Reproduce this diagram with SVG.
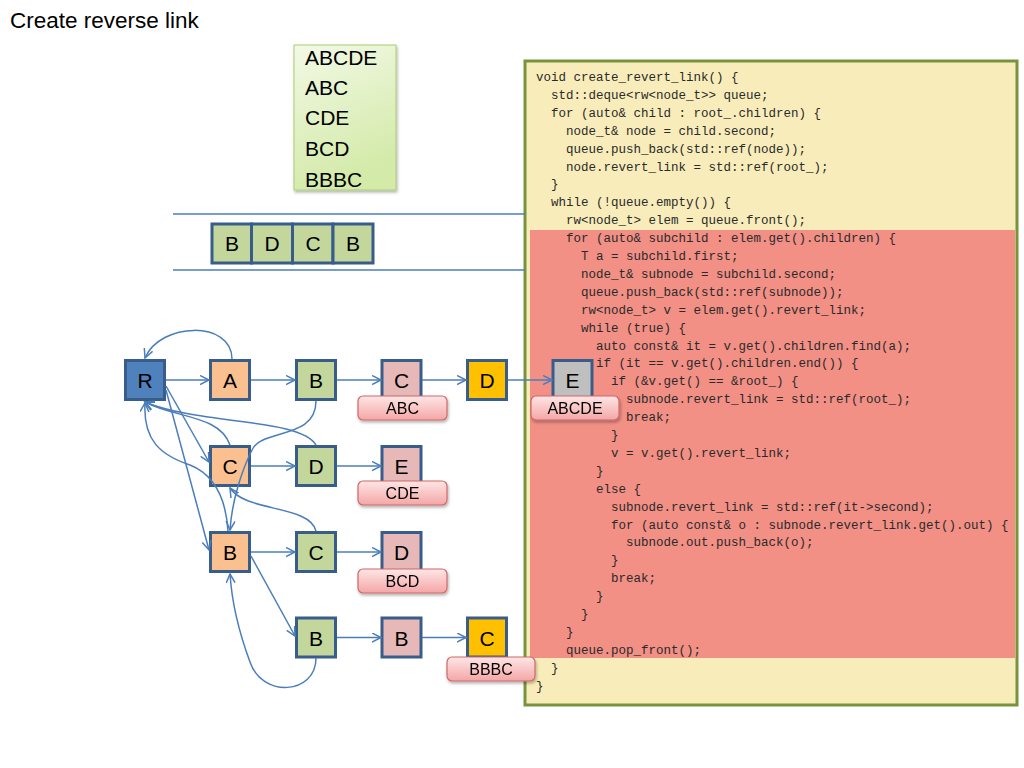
<svg xmlns="http://www.w3.org/2000/svg" width="1024" height="768" viewBox="0 0 1024 768">
<style>
.node rect{stroke:#385D8A;stroke-width:3}
.nl{font-family:"Liberation Sans",Arial,sans-serif;font-size:21px;fill:#000;text-anchor:middle}
.lbl rect{fill:url(#lg);stroke:#D06868;stroke-width:1.2}
.lt{font-family:"Liberation Sans",Arial,sans-serif;font-size:16px;fill:#000;text-anchor:middle}
.or{fill:#FAC090}.gr{fill:#C3D69B}.pk{fill:#E6B9B8}.go{fill:#FFC000}.gy{fill:#BFBFBF}.bl{fill:#4F81BD}
.edge{fill:none;stroke:#4A7EBB;stroke-width:1.5;marker-end:url(#ah)}
.code{font-family:"Liberation Mono","Courier New",monospace;font-size:12.5px;fill:#2a2a2a}
.wl{font-family:"Liberation Sans",Arial,sans-serif;font-size:21px;fill:#000}
</style>
<defs>
<marker id="ah" markerUnits="userSpaceOnUse" markerWidth="12" markerHeight="12" refX="9" refY="5" orient="auto">
<path d="M0,0.5 L9,5 L0,9.5" fill="none" stroke="#4A7EBB" stroke-width="1.5"/>
</marker>
<linearGradient id="lg" x1="0" y1="0" x2="0" y2="1">
<stop offset="0" stop-color="#FFE6E6"/><stop offset="1" stop-color="#F4A6A6"/>
</linearGradient>
<linearGradient id="wg" x1="0" y1="0" x2="0.3" y2="1">
<stop offset="0" stop-color="#F3F9E6"/><stop offset="1" stop-color="#D3EAA8"/>
</linearGradient>
<filter id="sh" x="-10%" y="-10%" width="130%" height="130%">
<feDropShadow dx="1" dy="2" stdDeviation="1.5" flood-color="#000" flood-opacity="0.3"/>
</filter>
</defs>
<rect width="1024" height="768" fill="#fff"/>
<text x="10" y="28" font-family="Liberation Sans,Arial,sans-serif" font-size="22.5" fill="#000">Create reverse link</text>

<g id="code-box">
<rect x="525" y="61" width="492" height="644" fill="#F8EDBA" stroke="#77933C" stroke-width="3"/>
<rect x="530" y="230" width="485" height="428" fill="#F29086"/>
<text class="code">
<tspan x="536" y="81">void create_revert_link() {</tspan>
<tspan x="551" y="98.9">std::deque&lt;rw&lt;node_t&gt;&gt; queue;</tspan>
<tspan x="551" y="116.8">for (auto&amp; child : root_.children) {</tspan>
<tspan x="566" y="134.7">node_t&amp; node = child.second;</tspan>
<tspan x="566" y="152.6">queue.push_back(std::ref(node));</tspan>
<tspan x="566" y="170.5">node.revert_link = std::ref(root_);</tspan>
<tspan x="551" y="188.4">}</tspan>
<tspan x="551" y="206.3">while (!queue.empty()) {</tspan>
<tspan x="566" y="224.2">rw&lt;node_t&gt; elem = queue.front();</tspan>
<tspan x="566" y="242.1">for (auto&amp; subchild : elem.get().children) {</tspan>
<tspan x="581" y="260">T a = subchild.first;</tspan>
<tspan x="581" y="277.9">node_t&amp; subnode = subchild.second;</tspan>
<tspan x="581" y="295.8">queue.push_back(std::ref(subnode));</tspan>
<tspan x="581" y="313.7">rw&lt;node_t&gt; v = elem.get().revert_link;</tspan>
<tspan x="581" y="331.6">while (true) {</tspan>
<tspan x="596" y="349.5">auto const&amp; it = v.get().children.find(a);</tspan>
<tspan x="596" y="367.4">if (it == v.get().children.end()) {</tspan>
<tspan x="611" y="385.3">if (&amp;v.get() == &amp;root_) {</tspan>
<tspan x="626" y="403.2">subnode.revert_link = std::ref(root_);</tspan>
<tspan x="626" y="421.1">break;</tspan>
<tspan x="611" y="439">}</tspan>
<tspan x="611" y="456.9">v = v.get().revert_link;</tspan>
<tspan x="596" y="474.8">}</tspan>
<tspan x="596" y="492.7">else {</tspan>
<tspan x="611" y="510.6">subnode.revert_link = std::ref(it-&gt;second);</tspan>
<tspan x="611" y="528.5">for (auto const&amp; o : subnode.revert_link.get().out) {</tspan>
<tspan x="626" y="546.4">subnode.out.push_back(o);</tspan>
<tspan x="611" y="564.3">}</tspan>
<tspan x="611" y="582.2">break;</tspan>
<tspan x="596" y="600.1">}</tspan>
<tspan x="581" y="618">}</tspan>
<tspan x="566" y="635.9">}</tspan>
<tspan x="566" y="653.8">queue.pop_front();</tspan>
<tspan x="551" y="671.7">}</tspan>
<tspan x="536" y="689.6">}</tspan>
</text>
</g>

<g id="word-list">
<rect x="294" y="45" width="102" height="145" fill="url(#wg)" stroke="#A9CD72" stroke-width="1" filter="url(#sh)"/>
<text class="wl" x="305" y="65">ABCDE</text>
<text class="wl" x="305" y="95">ABC</text>
<text class="wl" x="305" y="125">CDE</text>
<text class="wl" x="305" y="156">BCD</text>
<text class="wl" x="305" y="187">BBBC</text>
</g>

<g id="queue">
<line x1="173" y1="214" x2="525" y2="214" stroke="#4A7EBB" stroke-width="1.5"/>
<line x1="173" y1="270" x2="525" y2="270" stroke="#4A7EBB" stroke-width="1.5"/>
<g class="node">
<rect x="212" y="224" width="39.5" height="39" class="gr"/>
<rect x="251.5" y="224" width="41" height="39" class="gr"/>
<rect x="292.5" y="224" width="40.5" height="39" class="gr"/>
<rect x="333" y="224" width="40" height="39" class="gr"/>
</g>
<text class="nl" x="232" y="251">B</text>
<text class="nl" x="272" y="251">D</text>
<text class="nl" x="313" y="251">C</text>
<text class="nl" x="353" y="251">B</text>
</g>

<g id="n-R" class="node"><rect x="125.5" y="360.5" width="39" height="39" class="bl"/><text class="nl" x="145" y="388">R</text></g>
<g id="n-A" class="node"><rect x="210.5" y="360.5" width="39" height="39" class="or"/><text class="nl" x="230" y="388">A</text></g>
<g id="n-AB" class="node"><rect x="296.5" y="360.5" width="39" height="39" class="gr"/><text class="nl" x="316" y="388">B</text></g>
<g id="n-ABC" class="node"><rect x="382" y="360.5" width="39" height="39" class="pk"/><text class="nl" x="401.5" y="388">C</text></g>
<g id="n-ABCD" class="node"><rect x="467.5" y="360.5" width="39" height="39" class="go"/><text class="nl" x="487" y="388">D</text></g>
<g id="n-ABCDE" class="node"><rect x="553" y="360.5" width="39" height="39" class="gy"/><text class="nl" x="572.5" y="388">E</text></g>
<g id="n-C" class="node"><rect x="210.5" y="446.5" width="39" height="39" class="or"/><text class="nl" x="230" y="474">C</text></g>
<g id="n-CD" class="node"><rect x="296.5" y="446.5" width="39" height="39" class="gr"/><text class="nl" x="316" y="474">D</text></g>
<g id="n-CDE" class="node"><rect x="382" y="446.5" width="39" height="39" class="pk"/><text class="nl" x="401.5" y="474">E</text></g>
<g id="n-B" class="node"><rect x="210.5" y="532.5" width="39" height="39" class="or"/><text class="nl" x="230" y="560">B</text></g>
<g id="n-BC" class="node"><rect x="296.5" y="532.5" width="39" height="39" class="gr"/><text class="nl" x="316" y="560">C</text></g>
<g id="n-BCD" class="node"><rect x="382" y="532.5" width="39" height="39" class="pk"/><text class="nl" x="401.5" y="560">D</text></g>
<g id="n-BB" class="node"><rect x="296.5" y="618" width="39" height="39" class="gr"/><text class="nl" x="316" y="645.5">B</text></g>
<g id="n-BBB" class="node"><rect x="382" y="618" width="39" height="39" class="pk"/><text class="nl" x="401.5" y="645.5">B</text></g>
<g id="n-BBBC" class="node"><rect x="467.5" y="618" width="39" height="39" class="go"/><text class="nl" x="487" y="645.5">C</text></g>

<g id="connectors">
<path class="edge" d="M166,380 H209"/>
<path class="edge" d="M251,380 H295"/>
<path class="edge" d="M337,380 H381"/>
<path class="edge" d="M422,380 H466"/>
<path class="edge" d="M508,380 H552"/>
<path class="edge" d="M166,386 L209,462"/>
<path class="edge" d="M251,466 H295"/>
<path class="edge" d="M337,466 H381"/>
<path class="edge" d="M166,390 L209,550"/>
<path class="edge" d="M251,552 H295"/>
<path class="edge" d="M337,552 H381"/>
<path class="edge" d="M251,556 L295,636"/>
<path class="edge" d="M337,637.5 H381"/>
<path class="edge" d="M422,637.5 H466"/>
<path class="edge" d="M232,359 C232,320 160,322 145,358"/>
<path class="edge" d="M230,445 C220,415 175,418 145,402"/>
<path class="edge" d="M316,445 C300,418 200,425 145,402"/>
<path class="edge" d="M228,531 C226,500 215,475 190,465 C160,455 143,440 145,403"/>
<path class="edge" d="M316,401 C316,440 262,428 252,450 C242,470 232,500 230,530"/>
<path class="edge" d="M316,531 C310,505 245,512 230,488"/>
<path class="edge" d="M316,658 C316,695 262,698 250,662 C240,635 232,605 230,574"/>
</g>

<g id="labels">
<g id="lbl-ABC" class="lbl" filter="url(#sh)"><rect x="358" y="396" width="89" height="24" rx="5"/><text class="lt" x="402.5" y="414">ABC</text></g>
<g id="lbl-CDE" class="lbl" filter="url(#sh)"><rect x="358" y="481" width="89" height="24" rx="5"/><text class="lt" x="402.5" y="499">CDE</text></g>
<g id="lbl-BCD" class="lbl" filter="url(#sh)"><rect x="358" y="569" width="89" height="24" rx="5"/><text class="lt" x="402.5" y="587">BCD</text></g>
<g id="lbl-ABCDE" class="lbl" filter="url(#sh)"><rect x="531" y="396" width="88" height="24" rx="5"/><text class="lt" x="575" y="414">ABCDE</text></g>
<g id="lbl-BBBC" class="lbl" filter="url(#sh)"><rect x="447" y="657" width="88" height="24" rx="5"/><text class="lt" x="491" y="675">BBBC</text></g>
</g>
</svg>
